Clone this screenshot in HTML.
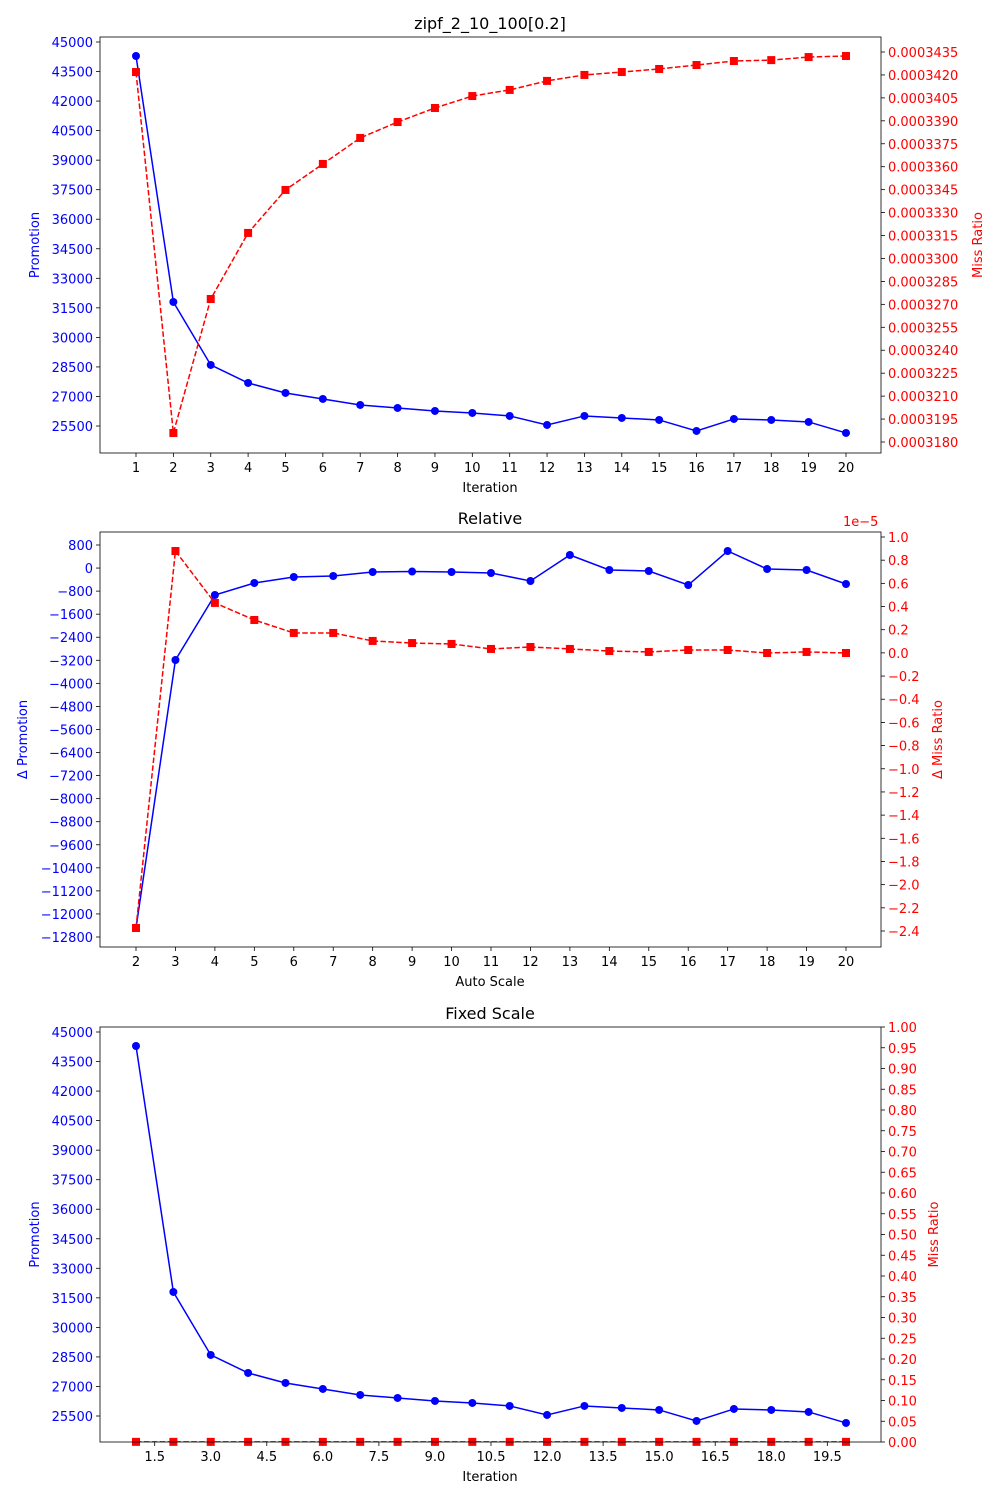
<!DOCTYPE html>
<html><head><meta charset="utf-8"><style>
body{margin:0;background:#fff;}
svg{display:block;font-family:"DejaVu Sans","Liberation Sans",sans-serif;}
</style></head><body>
<svg id="fig" width="1000" height="1500" viewBox="0 0 1000 1500"></svg>
<script>
// ---- data ----
const iterations = [1,2,3,4,5,6,7,8,9,10,11,12,13,14,15,16,17,18,19,20];
const promotion = [44289,31798,28599,27685,27177,26872,26568,26416,26264,26162,26010,25553,26010,25909,25807,25249,25858,25807,25706,25147];
const missRatio = [0.00034219,0.00031859,0.00032735,0.00033167,0.00033448,0.00033618,0.00033788,0.00033892,0.00033984,0.00034062,0.00034102,0.00034161,0.00034200,0.00034219,0.00034239,0.00034265,0.00034291,0.00034297,0.00034317,0.00034324];
const relIterations = [2,3,4,5,6,7,8,9,10,11,12,13,14,15,16,17,18,19,20];
const deltaPromotion = [-12487,-3190,-935,-518,-310,-275,-137,-120,-137,-171,-449,453,-67,-102,-588,592,-33,-67,-553];
const deltaMiss = [-2.374,0.879,0.431,0.284,0.172,0.172,0.103,0.085,0.077,0.034,0.051,0.034,0.016,0.008,0.025,0.025,-0.001,0.008,-0.001];
const promoTicks = [25500,27000,28500,30000,31500,33000,34500,36000,37500,39000,40500,42000,43500,45000];
const missTicks = [0.0003180,0.0003195,0.0003210,0.0003225,0.0003240,0.0003255,0.0003270,0.0003285,0.0003300,0.0003315,0.0003330,0.0003345,0.0003360,0.0003375,0.0003390,0.0003405,0.0003420,0.0003435];
const deltaPromoTicks = [800,0,-800,-1600,-2400,-3200,-4000,-4800,-5600,-6400,-7200,-8000,-8800,-9600,-10400,-11200,-12000,-12800];
const deltaMissTicks = [1.0,0.8,0.6,0.4,0.2,0.0,-0.2,-0.4,-0.6,-0.8,-1.0,-1.2,-1.4,-1.6,-1.8,-2.0,-2.2,-2.4];
const fixedMissTicks = [0,0.05,0.1,0.15,0.2,0.25,0.3,0.35,0.4,0.45,0.5,0.55,0.6,0.65,0.7,0.75,0.8,0.85,0.9,0.95,1.0];
const fixedXTicks = [1.5,3.0,4.5,6.0,7.5,9.0,10.5,12.0,13.5,15.0,16.5,18.0,19.5];

const NS="http://www.w3.org/2000/svg";
const svg=document.getElementById('fig');
function el(tag,attrs,parent){const e=document.createElementNS(NS,tag);for(const k in attrs)e.setAttribute(k,attrs[k]);(parent||svg).appendChild(e);return e;}
function txt(s,x,y,attrs,parent){const t=el('text',Object.assign({x:x,y:y,'font-size':13},attrs),parent);t.textContent=s;return t;}
function lin(d0,d1,r0,r1){return v=>r0+(v-d0)/(d1-d0)*(r1-r0);}
const fmtMinus=s=>s.replace('-','\u2212');

function panel(o){
  const g=el('g',{});
  
  
  const L=100,R=881,T=o.top,B=o.bottom;
  const X=lin(o.x0,o.x1,136,846);
  const YL=lin(o.yl0,o.yl1,o.yl0px,o.yl1px);
  const YR=lin(o.yr0,o.yr1,o.yr0px,o.yr1px);
  // title
  const tt=txt(o.title,490,T-8,{'text-anchor':'middle','font-size':16},g);
  
  
  // x ticks
  o.xticks.forEach(v=>{
    const x=X(v);
    el('line',{x1:x,x2:x,y1:B,y2:B+4,stroke:'#000','stroke-width':0.8},g);
    const t=txt(o.xfmt(v),x,B+19,{'text-anchor':'middle'},g);
    
    
  });
  const xl=txt(o.xlabel,490,B+39,{'text-anchor':'middle'},g);
  
  
  // left ticks
  o.ylticks.forEach(v=>{
    const y=YL(v);
    el('line',{x1:L-4,x2:L,y1:y,y2:y,stroke:'#000','stroke-width':0.8},g);
    const t=txt(fmtMinus(String(v)),L-7,y+5,{'text-anchor':'end',fill:'blue'},g);
    
    
  });
  const ylx=o.ylabelX, yly=(T+B)/2;
  const yl=txt(o.ylabel,ylx,yly,{'text-anchor':'middle',fill:'blue',transform:`rotate(-90 ${ylx} ${yly})`},g);
  
  
  // right ticks
  o.yrticks.forEach(v=>{
    const y=YR(v);
    el('line',{x1:R,x2:R+4,y1:y,y2:y,stroke:'#000','stroke-width':0.8},g);
    const t=txt(fmtMinus(o.yrfmt(v)),R+7,y+5,{'text-anchor':'start',fill:'red'},g);
    
    
  });
  const yrx=o.yrlabelX;
  const yr=txt(o.yrlabel,yrx,yly,{'text-anchor':'middle',fill:'red',transform:`rotate(-90 ${yrx} ${yly})`},g);
  
  
  if(o.offset){
    const of=txt(o.offset,843,T-6,{fill:'red'},g);
    
    
  }
  // clip
  const cid='clip'+T;
  const cp=el('clipPath',{id:cid},g);
  el('rect',{x:L,y:T,width:R-L,height:B-T},cp);
  const pg=el('g',{'clip-path':`url(#${cid})`},g);
  // blue series
  const bp=o.xs.map((x,i)=>X(x)+','+YL(o.yl[i])).join(' ');
  const bl=el('polyline',{points:bp,fill:'none',stroke:'blue','stroke-width':1.5},pg);
  
  
  o.xs.forEach((x,i)=>{
    const c=el('circle',{cx:X(x),cy:YL(o.yl[i]),r:4,fill:'blue'},pg);
    
    
  });
  // red series
  const rp=o.xs.map((x,i)=>X(x)+','+YR(o.yr[i])).join(' ');
  const rl=el('polyline',{points:rp,fill:'none',stroke:'red','stroke-width':1.5,'stroke-dasharray':'5.5,2.4'},pg);
  
  
  o.xs.forEach((x,i)=>{
    const s=el('rect',{x:X(x)-4,y:YR(o.yr[i])-4,width:8,height:8,fill:'red'},g);
    
    
  });
  el('rect',{x:L,y:T,width:R-L,height:B-T,fill:'none',stroke:'#000','stroke-width':0.8},g);
}

panel({name:'absolute-panel',title:'zipf_2_10_100[0.2]',top:37,bottom:453,
  x0:1,x1:20,xticks:iterations,xfmt:v=>String(v),xlabel:'Iteration',
  yl0:25500,yl1:45000,yl0px:426,yl1px:42,ylticks:promoTicks,ylabel:'Promotion',ylabelX:39,
  yr0:0.000318,yr1:0.0003435,yr0px:442,yr1px:52,yrticks:missTicks,yrfmt:v=>v.toFixed(7),yrlabel:'Miss Ratio',yrlabelX:982,
  xs:iterations,yl:promotion,yr:missRatio});

panel({name:'relative-panel',title:'Relative',top:532,bottom:947,
  x0:2,x1:20,xticks:relIterations,xfmt:v=>String(v),xlabel:'Auto Scale',
  yl0:800,yl1:-12800,yl0px:545,yl1px:937,ylticks:deltaPromoTicks,ylabel:'\u0394 Promotion',ylabelX:27,
  yr0:1.0,yr1:-2.4,yr0px:537,yr1px:931,yrticks:deltaMissTicks,yrfmt:v=>v.toFixed(1),yrlabel:'\u0394 Miss Ratio',yrlabelX:942,
  offset:'1e\u22125',
  xs:relIterations,yl:deltaPromotion,yr:deltaMiss});

panel({name:'fixed-scale-panel',title:'Fixed Scale',top:1027,bottom:1442,
  x0:1,x1:20,xticks:fixedXTicks,xfmt:v=>v.toFixed(1),xlabel:'Iteration',
  yl0:25500,yl1:45000,yl0px:1416,yl1px:1032,ylticks:promoTicks,ylabel:'Promotion',ylabelX:39,
  yr0:0,yr1:1.0,yr0px:1442,yr1px:1027,yrticks:fixedMissTicks,yrfmt:v=>v.toFixed(2),yrlabel:'Miss Ratio',yrlabelX:938,
  xs:iterations,yl:promotion,yr:missRatio});
</script>
</body></html>
